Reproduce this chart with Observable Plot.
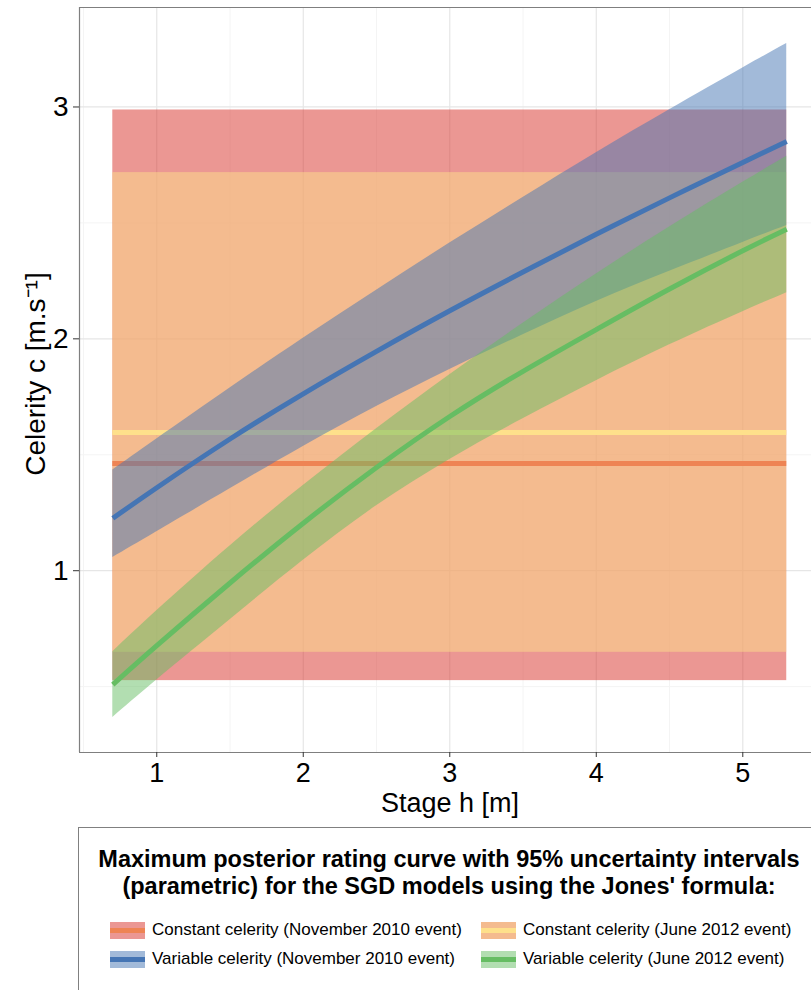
<!DOCTYPE html>
<html><head><meta charset="utf-8">
<script src="https://cdn.jsdelivr.net/npm/d3@7"></script>
<script src="https://cdn.jsdelivr.net/npm/@observablehq/plot@0.6"></script>
<style>
html,body{margin:0;padding:0;background:#fff;overflow:hidden;width:811px;height:990px;}
#wrap{position:relative;width:811px;height:990px;overflow:hidden;font-family:"Liberation Sans",Arial,Helvetica,sans-serif;}
#chart{position:absolute;left:0;top:0;}
#legend{position:absolute;left:78px;top:827px;width:742px;height:175px;border:1px solid #808080;box-sizing:border-box;background:#fff;}
#legend .title{position:absolute;left:0;width:100%;text-align:center;font-weight:bold;font-size:23.5px;line-height:28px;color:#000;white-space:nowrap;}
#legend .item{position:absolute;height:20px;display:flex;align-items:center;font-size:17px;color:#000;white-space:nowrap;}
#legend .item svg{margin-right:7px;flex:none;}
</style></head>
<body><div id="wrap"><div id="chart"></div><div id="legend"></div></div>
<script>
// ---- data ----
const stage      = [0.7, 1.0, 1.5, 2.0, 2.5, 3.0, 3.5, 4.0, 4.5, 5.0, 5.3];
const novVarMax  = [1.226, 1.358, 1.568, 1.763, 1.946, 2.121, 2.288, 2.451, 2.608, 2.761, 2.851];
const novVarLow  = [1.057, 1.168, 1.353, 1.536, 1.708, 1.868, 2.018, 2.161, 2.291, 2.416, 2.489];
const novVarHigh = [1.434, 1.568, 1.788, 2.003, 2.210, 2.413, 2.610, 2.803, 2.988, 3.168, 3.274];
const junVarMax  = [0.509, 0.677, 0.947, 1.205, 1.445, 1.665, 1.860, 2.040, 2.215, 2.380, 2.473];
const junVarLow  = [0.367, 0.529, 0.789, 1.045, 1.280, 1.480, 1.655, 1.819, 1.974, 2.117, 2.199];
const junVarHigh = [0.650, 0.827, 1.107, 1.367, 1.612, 1.845, 2.067, 2.280, 2.482, 2.675, 2.787];

const constEvents = ["November 2010", "June 2012"];
const constMax    = [1.462, 1.596];
const constLow    = [0.526, 0.648];
const constHigh   = [2.987, 2.717];
const stageRange  = [0.7, 5.3];

const xTicks = [1, 2, 3, 4, 5];
const yTicks = [1, 2, 3];
const xMinor = [0.5, 1.5, 2.5, 3.5, 4.5];
const yMinor = [0.5, 1.5, 2.5];
const xDomain = [0.4727, 5.469];
const yDomain = [0.216, 3.429];

const xTitle = "Stage h [m]";
const yTitle = "Celerity c [m.s\u207B\u00B9]";
const legendTitle = ["Maximum posterior rating curve with 95% uncertainty intervals",
                     "(parametric) for the SGD models using the Jones' formula:"];
const legendLabels = ["Constant celerity (November 2010 event)", "Constant celerity (June 2012 event)",
                      "Variable celerity (November 2010 event)", "Variable celerity (June 2012 event)"];

// ---- tables ----
const variable = stage.map((h, i) => ({
  h, novMax: novVarMax[i], novLow: novVarLow[i], novHigh: novVarHigh[i],
  junMax: junVarMax[i], junLow: junVarLow[i], junHigh: junVarHigh[i]
}));
const constant = constEvents.map((e, i) => ({
  event: e, x1: stageRange[0], x2: stageRange[1], y1: constLow[i], y2: constHigh[i], max: constMax[i]
}));

const RED = "#D73027", YEL = "#FEE08B", ORA = "#EE8454", BLUE = "#4575B4", GREEN = "#66BD63";
const CURVE = "natural";

const chart = Plot.plot({
  width: 811, height: 820,
  marginLeft: 79, marginRight: 0, marginTop: 7, marginBottom: 68,
  style: {fontFamily: "'Liberation Sans', Arial, Helvetica, sans-serif", background: "#fff", overflow: "visible"},
  x: {domain: xDomain},
  y: {domain: yDomain},
  marks: [
    Plot.gridX(xMinor, {stroke: "#f4f4f4", strokeOpacity: 1, strokeWidth: 1}),
    Plot.gridY(yMinor, {stroke: "#f4f4f4", strokeOpacity: 1, strokeWidth: 1}),
    Plot.gridX(xTicks, {stroke: "#e6e6e6", strokeOpacity: 1, strokeWidth: 1.2}),
    Plot.gridY(yTicks, {stroke: "#e6e6e6", strokeOpacity: 1, strokeWidth: 1.2}),
    Plot.rect([constant[0]], {x1: "x1", x2: "x2", y1: "y1", y2: "y2", fill: RED, fillOpacity: 0.5}),
    Plot.rect([constant[1]], {x1: "x1", x2: "x2", y1: "y1", y2: "y2", fill: YEL, fillOpacity: 0.5}),
    Plot.ruleY([constant[0]], {y: "max", x1: "x1", x2: "x2", stroke: ORA, strokeWidth: 5}),
    Plot.ruleY([constant[1]], {y: "max", x1: "x1", x2: "x2", stroke: YEL, strokeWidth: 5}),
    Plot.areaY(variable, {x: "h", y1: "novLow", y2: "novHigh", fill: BLUE, fillOpacity: 0.5, curve: CURVE}),
    Plot.areaY(variable, {x: "h", y1: "junLow", y2: "junHigh", fill: GREEN, fillOpacity: 0.5, curve: CURVE}),
    Plot.line(variable, {x: "h", y: "novMax", stroke: BLUE, strokeWidth: 5, curve: CURVE, strokeLinecap: "butt"}),
    Plot.line(variable, {x: "h", y: "junMax", stroke: GREEN, strokeWidth: 5, curve: CURVE, strokeLinecap: "butt"}),
    Plot.ruleY([yDomain[1]], {stroke: "#7f7f7f", strokeWidth: 1.2}),
    Plot.ruleY([yDomain[0]], {stroke: "#7f7f7f", strokeWidth: 1.2}),
    Plot.ruleX([xDomain[0]], {stroke: "#7f7f7f", strokeWidth: 1.2}),
    Plot.axisX(xTicks, {tickSize: 5, tickPadding: 5, fontSize: 27, stroke: "#333", fill: "#000", label: null, tickFormat: d => String(d)}),
    Plot.axisY(yTicks, {tickSize: 6, tickPadding: 5, fontSize: 28, stroke: "#333", fill: "#000", label: null, tickFormat: d => String(d)}),
    Plot.text([xTitle], {text: d => d, frameAnchor: "bottom", dx: 4.5, dy: 51, lineAnchor: "middle", textAnchor: "middle", fontSize: 27, fill: "#000"}),
    Plot.text([yTitle], {text: d => d, frameAnchor: "left", dx: -43, dy: -6, rotate: -90, lineAnchor: "middle", textAnchor: "middle", fontSize: 28, fill: "#000"})
  ]
});
document.getElementById("chart").appendChild(chart);

// ---- legend ----
const legend = document.getElementById("legend");
legendTitle.forEach((t, i) => {
  const d = document.createElement("div");
  d.className = "title";
  d.style.top = (17 + i * 27) + "px";
  d.textContent = t;
  legend.appendChild(d);
});
function keySvg(fills, line) {
  const ns = "http://www.w3.org/2000/svg";
  const s = document.createElementNS(ns, "svg");
  s.setAttribute("width", 35); s.setAttribute("height", 17);
  fills.forEach(f => {
    const r = document.createElementNS(ns, "rect");
    r.setAttribute("x", 0); r.setAttribute("y", 0); r.setAttribute("width", 35); r.setAttribute("height", 17);
    r.setAttribute("fill", f); r.setAttribute("fill-opacity", 0.5);
    s.appendChild(r);
  });
  const l = document.createElementNS(ns, "line");
  l.setAttribute("x1", 0); l.setAttribute("x2", 35); l.setAttribute("y1", 8.5); l.setAttribute("y2", 8.5);
  l.setAttribute("stroke", line); l.setAttribute("stroke-width", 5);
  s.appendChild(l);
  return s;
}
const keys = [[[RED], ORA], [[RED, YEL], YEL], [[BLUE], BLUE], [[GREEN], GREEN]];
const pos = [[31, 92], [402, 92], [31, 121], [402, 121]];
legendLabels.forEach((lab, i) => {
  const it = document.createElement("div");
  it.className = "item";
  it.style.left = pos[i][0] + "px";
  it.style.top = pos[i][1] + "px";
  it.appendChild(keySvg(keys[i][0], keys[i][1]));
  const sp = document.createElement("span");
  sp.textContent = lab;
  it.appendChild(sp);
  legend.appendChild(it);
});
</script>
</body></html>
